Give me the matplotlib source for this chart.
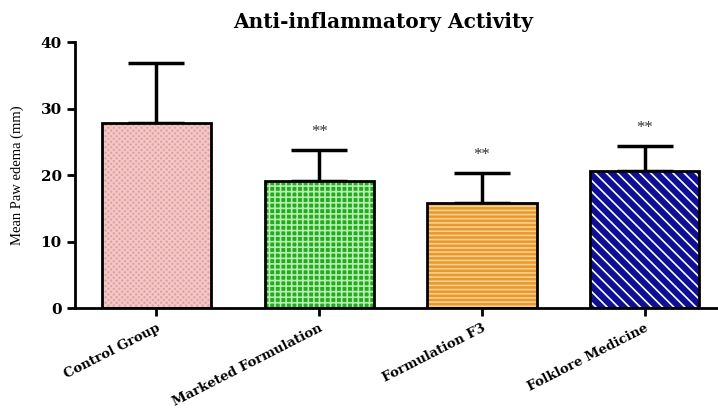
import matplotlib
matplotlib.use("Agg")
import matplotlib.pyplot as plt
import matplotlib.transforms as mtransforms
import numpy as np

categories = ["Control Group", "Marketed Formulation", "Formulation F3", "Folklore Medicine"]
means = [27.8, 19.1, 15.8, 20.6]
errors = [9.0, 4.7, 4.5, 3.8]
signif = ["", "**", "**", "**"]
face_colors = ["#e3a2a2", "#25a825", "#e8982f", "#0f0f96"]
hatch_colors = ["#f2c8c8", "#b4f0aa", "#fbd08a", "#ffffff"]
hatches = ["xxxxxx", "+++", "----", "\\\\\\"]

plt.rcParams['font.family'] = ['Liberation Serif', 'DejaVu Serif']

fig = plt.figure(figsize=(7.18, 4.08), dpi=100)
ax = fig.add_axes([0.1045, 0.245, 0.8955, 0.652])

x = np.arange(len(categories))
width = 0.67
plt.rcParams['hatch.linewidth'] = 1.2
for i in range(len(categories)):
    ax.bar(x[i], means[i], width=width, color=face_colors[i], edgecolor=hatch_colors[i],
           hatch=hatches[i], linewidth=0, zorder=2)
    ax.bar(x[i], means[i], width=width, fill=False, edgecolor="black", linewidth=2.0, zorder=3)
ax.errorbar(x, means, yerr=[np.zeros(len(means)), errors], fmt="none", ecolor="black",
            elinewidth=2.5, capsize=20, capthick=2.5, zorder=1)
for i in range(len(categories)):
    if signif[i]:
        ax.text(x[i], means[i] + errors[i] + 1.5, signif[i], ha="center", va="bottom",
                fontsize=12, color="#333333")

ax.set_xlim(-0.5, 3.45)
ax.set_ylim(0, 40)
ax.set_yticks([0, 10, 20, 30, 40])
ax.set_xticks(x)
ax.set_xticklabels(categories, rotation=27, ha="right", va="top", rotation_mode="anchor",
                   fontsize=9.5, fontweight="bold", family="DejaVu Serif")
offset = mtransforms.ScaledTranslation(10 / 100, 3 / 100, fig.dpi_scale_trans)
for lab in ax.get_xticklabels():
    lab.set_transform(lab.get_transform() + offset)
for lab in ax.get_yticklabels():
    lab.set_fontweight("bold")
    lab.set_fontsize(11)
    lab.set_family("DejaVu Serif")
ax.tick_params(axis="both", width=2, length=6)
ax.spines["top"].set_visible(False)
ax.spines["right"].set_visible(False)
ax.spines["left"].set_linewidth(2)
ax.spines["bottom"].set_linewidth(2)
ax.set_ylabel("Mean Paw edema (mm)", fontsize=10.5)
ax.yaxis.set_label_coords(-0.08, 0.5)
fig.text(0.534, 0.946, "Anti-inflammatory Activity", ha="center", va="center",
         fontsize=14.5, fontweight="bold", family="DejaVu Serif")

fig.savefig("out.png", dpi=100)
